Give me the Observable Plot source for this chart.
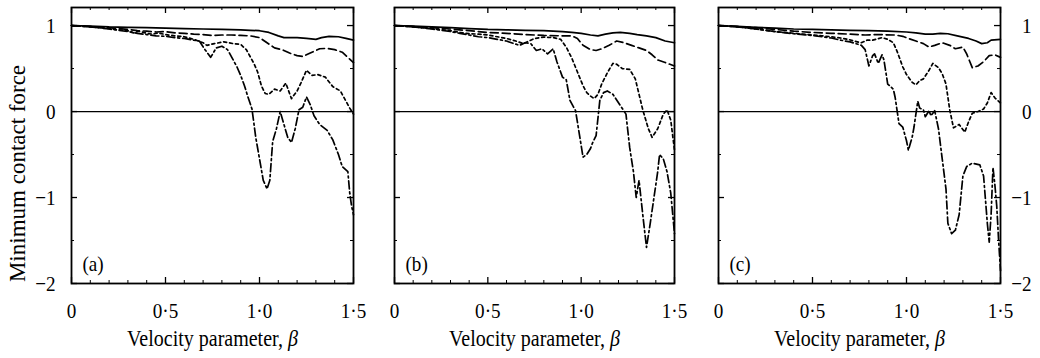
<!DOCTYPE html>
<html><head><meta charset="utf-8">
<script src="https://cdn.jsdelivr.net/npm/d3@7"></script>
<script src="https://cdn.jsdelivr.net/npm/@observablehq/plot@0.6"></script>
<style>
body{margin:0;background:#fff;}
#wrap{position:relative;width:1040px;height:358px;display:flex;overflow:hidden;}
#wrap svg{flex:none;}
#wrap svg text{font-family:"Liberation Serif","Times New Roman",serif;}
</style></head><body><div id="wrap"></div>
<script>
// ---- tick values & labels ----
const xTicks = [0, 0.5, 1.0, 1.5];
const xTickLabels = ["0", "0·5", "1·0", "1·5"];
const xMinor = [0.1,0.2,0.3,0.4,0.6,0.7,0.8,0.9,1.1,1.2,1.3,1.4];
const yTicks = [-2, -1, 0, 1];
const yTickLabels = ["−2", "−1", "0", "1"];
const yMinor = [-1.5, -0.5, 0.5];
const panelLabels = ["(a)", "(b)", "(c)"];
const xTitle = "Velocity parameter, β";
const yTitle = "Minimum contact force";

// ---- panel (a) ----
const a_solid = [[0,1],[0.1,0.995],[0.2,0.985],[0.3,0.98],[0.4,0.975],[0.5,0.97],[0.6,0.965],[0.7,0.96],[0.8,0.955],[0.9,0.95],[0.95,0.945],[1.0,0.94],[1.05,0.92],[1.1,0.88],[1.13,0.86],[1.2,0.86],[1.25,0.85],[1.3,0.84],[1.33,0.86],[1.37,0.875],[1.42,0.87],[1.46,0.85],[1.5,0.83]];
const a_dashed = [[0,1],[0.1,0.99],[0.2,0.975],[0.3,0.955],[0.35,0.94],[0.4,0.935],[0.45,0.925],[0.5,0.93],[0.55,0.915],[0.6,0.91],[0.65,0.9],[0.7,0.895],[0.75,0.885],[0.8,0.89],[0.85,0.89],[0.9,0.885],[0.95,0.88],[1.0,0.86],[1.04,0.8],[1.08,0.74],[1.12,0.72],[1.16,0.68],[1.2,0.65],[1.23,0.64],[1.27,0.68],[1.32,0.73],[1.36,0.735],[1.4,0.72],[1.44,0.69],[1.47,0.63],[1.5,0.57]];
const a_dotted = [[0,1],[0.1,0.985],[0.2,0.965],[0.25,0.95],[0.3,0.94],[0.33,0.915],[0.36,0.935],[0.4,0.91],[0.43,0.9],[0.46,0.915],[0.5,0.895],[0.55,0.88],[0.6,0.87],[0.65,0.84],[0.7,0.8],[0.72,0.77],[0.76,0.79],[0.81,0.81],[0.86,0.79],[0.9,0.78],[0.93,0.72],[0.95,0.64],[0.97,0.56],[0.99,0.46],[1.01,0.3],[1.03,0.21],[1.05,0.2],[1.08,0.26],[1.11,0.24],[1.14,0.33],[1.17,0.15],[1.2,0.24],[1.22,0.33],[1.25,0.48],[1.28,0.42],[1.31,0.43],[1.35,0.4],[1.39,0.29],[1.43,0.24],[1.46,0.12],[1.48,0.04],[1.5,-0.03]];
const a_dashdot = [[0,1],[0.1,0.985],[0.2,0.96],[0.25,0.945],[0.3,0.93],[0.35,0.91],[0.4,0.895],[0.45,0.88],[0.5,0.875],[0.55,0.86],[0.6,0.85],[0.65,0.83],[0.68,0.82],[0.71,0.72],[0.74,0.63],[0.77,0.74],[0.8,0.76],[0.83,0.72],[0.86,0.6],[0.88,0.52],[0.9,0.42],[0.92,0.3],[0.94,0.16],[0.96,0.03],[0.98,-0.3],[1.0,-0.55],[1.02,-0.8],[1.04,-0.9],[1.055,-0.8],[1.07,-0.35],[1.09,-0.2],[1.11,0.0],[1.13,-0.15],[1.15,-0.3],[1.17,-0.36],[1.19,-0.2],[1.21,0.02],[1.23,0.05],[1.25,0.17],[1.27,0.08],[1.29,-0.05],[1.32,-0.15],[1.36,-0.22],[1.39,-0.33],[1.42,-0.5],[1.44,-0.64],[1.47,-0.7],[1.48,-0.95],[1.49,-1.1],[1.5,-1.2]];

// ---- panel (b) ----
const b_solid = [[0,1],[0.1,0.995],[0.2,0.985],[0.3,0.975],[0.4,0.965],[0.5,0.955],[0.6,0.95],[0.7,0.945],[0.8,0.94],[0.9,0.93],[0.95,0.92],[1.0,0.91],[1.05,0.89],[1.09,0.88],[1.13,0.9],[1.17,0.915],[1.21,0.92],[1.26,0.91],[1.3,0.895],[1.35,0.88],[1.4,0.86],[1.45,0.82],[1.5,0.8]];
const b_dashed = [[0,1],[0.1,0.99],[0.2,0.975],[0.3,0.96],[0.4,0.94],[0.5,0.92],[0.6,0.91],[0.7,0.895],[0.8,0.885],[0.9,0.88],[0.95,0.88],[0.98,0.85],[1.01,0.77],[1.05,0.72],[1.08,0.71],[1.11,0.73],[1.15,0.77],[1.19,0.82],[1.23,0.8],[1.27,0.77],[1.31,0.74],[1.35,0.71],[1.38,0.66],[1.41,0.6],[1.45,0.57],[1.5,0.53]];
const b_dotted = [[0,1],[0.1,0.985],[0.2,0.965],[0.3,0.94],[0.35,0.92],[0.4,0.905],[0.45,0.9],[0.5,0.89],[0.55,0.87],[0.6,0.85],[0.65,0.82],[0.69,0.79],[0.72,0.82],[0.75,0.85],[0.8,0.865],[0.85,0.86],[0.89,0.84],[0.92,0.75],[0.95,0.62],[0.98,0.46],[1.01,0.3],[1.03,0.22],[1.05,0.18],[1.07,0.15],[1.09,0.2],[1.11,0.32],[1.14,0.45],[1.17,0.56],[1.19,0.55],[1.22,0.5],[1.26,0.49],[1.29,0.38],[1.31,0.2],[1.33,0.02],[1.36,-0.2],[1.38,-0.3],[1.41,-0.2],[1.44,-0.03],[1.46,0.02],[1.48,-0.1],[1.5,-0.45]];
const b_dashdot = [[0,1],[0.1,0.985],[0.2,0.96],[0.3,0.93],[0.35,0.91],[0.4,0.89],[0.45,0.87],[0.5,0.86],[0.55,0.84],[0.6,0.82],[0.64,0.79],[0.67,0.77],[0.7,0.8],[0.73,0.79],[0.76,0.71],[0.79,0.73],[0.82,0.67],[0.85,0.73],[0.87,0.58],[0.9,0.4],[0.92,0.37],[0.94,0.13],[0.97,0.01],[0.99,-0.26],[1.01,-0.53],[1.03,-0.5],[1.05,-0.43],[1.06,-0.37],[1.08,-0.28],[1.1,0.13],[1.12,0.22],[1.14,0.24],[1.17,0.2],[1.21,0.07],[1.24,-0.03],[1.26,-0.42],[1.28,-0.7],[1.295,-1.0],[1.31,-0.8],[1.33,-1.2],[1.35,-1.58],[1.37,-1.3],[1.39,-1.0],[1.41,-0.7],[1.42,-0.5],[1.44,-0.55],[1.46,-0.7],[1.48,-0.95],[1.5,-1.42]];

// ---- panel (c) ----
const c_solid = [[0,1],[0.1,0.99],[0.2,0.98],[0.3,0.97],[0.4,0.96],[0.5,0.955],[0.6,0.95],[0.7,0.945],[0.8,0.94],[0.9,0.935],[1.0,0.925],[1.05,0.915],[1.1,0.9],[1.14,0.9],[1.18,0.91],[1.22,0.905],[1.27,0.88],[1.33,0.85],[1.37,0.82],[1.4,0.79],[1.43,0.8],[1.45,0.83],[1.5,0.84]];
const c_dashed = [[0,1],[0.1,0.99],[0.2,0.975],[0.3,0.955],[0.4,0.935],[0.5,0.92],[0.6,0.91],[0.7,0.9],[0.78,0.89],[0.85,0.895],[0.94,0.89],[0.98,0.875],[1.01,0.85],[1.05,0.82],[1.09,0.79],[1.12,0.75],[1.15,0.77],[1.19,0.8],[1.23,0.77],[1.26,0.73],[1.3,0.75],[1.32,0.67],[1.35,0.51],[1.38,0.53],[1.41,0.58],[1.44,0.65],[1.47,0.66],[1.5,0.63]];
const c_dotted = [[0,1],[0.1,0.985],[0.2,0.96],[0.3,0.93],[0.4,0.91],[0.5,0.89],[0.55,0.88],[0.6,0.87],[0.65,0.855],[0.69,0.84],[0.72,0.82],[0.76,0.8],[0.79,0.83],[0.82,0.83],[0.87,0.86],[0.9,0.84],[0.93,0.8],[0.95,0.7],[0.98,0.52],[1.0,0.43],[1.03,0.34],[1.05,0.31],[1.07,0.36],[1.09,0.38],[1.12,0.48],[1.14,0.56],[1.17,0.51],[1.19,0.44],[1.21,0.32],[1.23,0.02],[1.25,-0.19],[1.28,-0.15],[1.31,-0.24],[1.33,-0.12],[1.35,-0.02],[1.38,0.0],[1.41,0.03],[1.43,0.1],[1.45,0.22],[1.47,0.16],[1.5,0.1]];
const c_dashdot = [[0,1],[0.1,0.985],[0.2,0.96],[0.3,0.93],[0.4,0.905],[0.5,0.885],[0.55,0.87],[0.6,0.855],[0.65,0.83],[0.7,0.81],[0.73,0.79],[0.76,0.77],[0.78,0.72],[0.8,0.53],[0.82,0.65],[0.83,0.67],[0.85,0.56],[0.87,0.66],[0.88,0.6],[0.9,0.32],[0.93,0.26],[0.94,0.16],[0.96,-0.14],[0.98,-0.18],[1.0,-0.34],[1.01,-0.45],[1.03,-0.3],[1.04,-0.18],[1.06,0.12],[1.07,0.04],[1.09,0.02],[1.1,-0.06],[1.12,0.01],[1.13,-0.05],[1.15,0.01],[1.17,-0.2],[1.19,-0.55],[1.21,-0.9],[1.22,-1.3],[1.24,-1.42],[1.26,-1.38],[1.28,-1.2],[1.3,-0.75],[1.32,-0.64],[1.35,-0.6],[1.39,-0.62],[1.41,-0.75],[1.43,-1.3],[1.44,-1.52],[1.45,-1.2],[1.46,-0.65],[1.47,-0.85],[1.48,-1.1],[1.49,-1.5],[1.5,-1.85]];

const panels = [
  {series: [a_solid, a_dashed, a_dotted, a_dashdot], width: 380, ml: 71, mr: 27, left: true, right: false},
  {series: [b_solid, b_dashed, b_dotted, b_dashdot], width: 320, ml: 14, mr: 26, left: false, right: false},
  {series: [c_solid, c_dashed, c_dotted, c_dashdot], width: 340, ml: 18, mr: 40, left: false, right: true}
];
const dashes = [null, "8,4", "3,3", "8,3,2,3"];

const H = 358, MT = 7, MB = 75;
const font = "'Liberation Serif', 'Times New Roman', serif";

panels.forEach((p, i) => {
  const fw = p.width - p.ml - p.mr, fh = H - MT - MB;
  const marks = [
    Plot.ruleY([0], {stroke: "#000", strokeWidth: 1.2}),
    ...p.series.map((s, k) => Plot.line(s, {x: d => d[0], y: d => d[1], stroke: "#000", strokeWidth: 1.7, strokeDasharray: dashes[k], curve: "linear"})),
    Plot.frame({stroke: "#000", strokeWidth: 1.8}),
    // inward ticks, bottom & top
    Plot.tickX(xTicks, {x: d => d, insetTop: fh - 6, stroke: "#000", strokeWidth: 1.3}),
    Plot.tickX(xMinor, {x: d => d, insetTop: fh - 3, stroke: "#000"}),
    Plot.tickX(xTicks, {x: d => d, insetBottom: fh - 6, stroke: "#000", strokeWidth: 1.3}),
    Plot.tickX(xMinor, {x: d => d, insetBottom: fh - 3, stroke: "#000"}),
    // inward ticks, left & right
    Plot.tickY(yTicks, {y: d => d, insetRight: fw - 6, stroke: "#000", strokeWidth: 1.3}),
    Plot.tickY(yMinor, {y: d => d, insetRight: fw - 3, stroke: "#000"}),
    Plot.tickY(yTicks, {y: d => d, insetLeft: fw - 6, stroke: "#000", strokeWidth: 1.3}),
    Plot.tickY(yMinor, {y: d => d, insetLeft: fw - 3, stroke: "#000"}),
    // x tick labels
    Plot.text(xTicks, {x: d => d, text: (d, j) => xTickLabels[j], frameAnchor: "bottom", dy: 27, lineAnchor: "middle", fontSize: 22, className: "sq"}),
    // x title
    Plot.text([xTitle], {frameAnchor: "bottom", dy: 55, lineAnchor: "middle", fontSize: 23, className: "sq"}),
    // panel label
    Plot.text([panelLabels[i]], {frameAnchor: "bottom-left", dx: 11, dy: -20, textAnchor: "start", lineAnchor: "middle", fontSize: 22, className: "sq"})
  ];
  if (p.left) {
    marks.push(Plot.text(yTicks, {y: d => d, text: (d, j) => yTickLabels[j], frameAnchor: "left", dx: -16, textAnchor: "end", lineAnchor: "middle", fontSize: 22, className: "sq"}));
    marks.push(Plot.text([yTitle], {frameAnchor: "left", dx: -54, dy: 28, rotate: -90, textAnchor: "middle", lineAnchor: "middle", fontSize: 23}));
  }
  if (p.right) {
    marks.push(Plot.text(yTicks, {y: d => d, text: (d, j) => yTickLabels[j], frameAnchor: "right", dx: 31, textAnchor: "end", lineAnchor: "middle", fontSize: 22, className: "sq"}));
  }
  const svg = Plot.plot({
    width: p.width, height: H,
    marginLeft: p.ml, marginRight: p.mr, marginTop: MT, marginBottom: MB,
    x: {domain: [0, 1.5], axis: null},
    y: {domain: [-2, 1.21], axis: null},
    style: {fontFamily: font, background: "white", color: "#000", overflow: "visible"},
    marks
  });
  // typeset look: slightly condensed serif lettering, italic beta
  d3.select(svg).selectAll("text").each(function () {
    const t = d3.select(this);
    const s = t.text();
    if (s.includes("β")) {
      t.text(null);
      t.append("tspan").text(s.replace("β", ""));
      t.append("tspan").attr("font-style", "italic").text("β");
    }
  });
  d3.select(svg).selectAll(".sq text").attr("transform", function () {
    return (this.getAttribute("transform") || "") + " scale(0.87,1)";
  });
  document.getElementById("wrap").appendChild(svg);
});
</script>
</body></html>
